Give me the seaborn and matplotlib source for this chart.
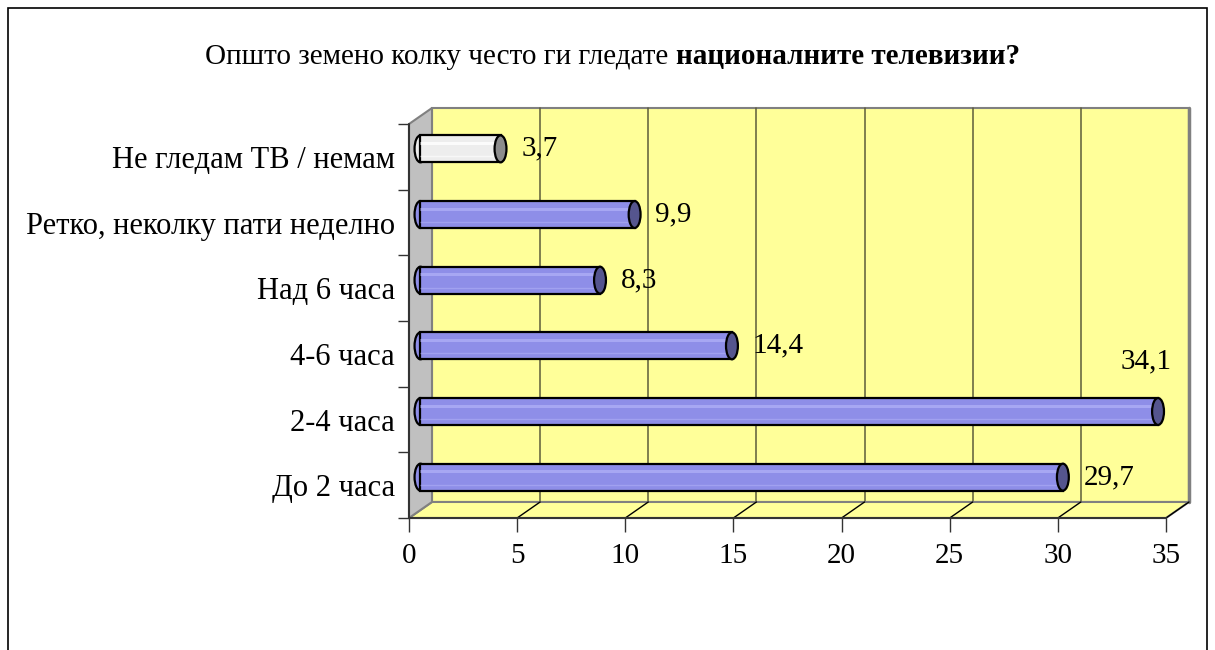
import matplotlib
matplotlib.use("Agg")
import numpy as np
import pandas as pd
import matplotlib.pyplot as plt
import matplotlib.transforms as mtransforms
from matplotlib.patches import Polygon, Rectangle, Ellipse
import seaborn as sns

# --- data ---
categories = ["Не гледам ТВ / немам", "Ретко, неколку пати неделно", "Над 6 часа",
              "4-6 часа", "2-4 часа", "До 2 часа"]
values = [3.7, 9.9, 8.3, 14.4, 34.1, 29.7]
value_labels = ["3,7", "9,9", "8,3", "14,4", "34,1", "29,7"]
x_ticks = [0, 5, 10, 15, 20, 25, 30, 35]
title_normal = "Општо земено колку често ги гледате "
title_bold = "националните телевизии?"

# bar styles (first bar is grey/white in the original)
body_colors = ["#EDEDED", "#8E8EE8", "#8E8EE8", "#8E8EE8", "#8E8EE8", "#8E8EE8"]
cap_colors = ["#8C8C8C", "#55558E", "#55558E", "#55558E", "#55558E", "#55558E"]
shine_colors = ["#FFFFFF", "#AEAEF6", "#AEAEF6", "#AEAEF6", "#AEAEF6", "#AEAEF6"]

sns.set_style("white")
plt.rcParams["font.family"] = ["Liberation Serif", "DejaVu Serif"]
plt.rcParams["text.color"] = "black"
plt.rcParams["xtick.color"] = "black"
plt.rcParams["ytick.color"] = "black"
plt.rcParams["xtick.labelcolor"] = "black"
plt.rcParams["ytick.labelcolor"] = "black"

FS_CAT = 22
FS_NUM = 21
FS_TITLE = 21
XMAX = 35
DX = 1.063   # depth offset in x data units
DY = 0.244   # depth offset in y data units
BAR_H = 0.41

fig = plt.figure(figsize=(12.15, 6.5), dpi=100)
ax = fig.add_axes([409 / 1215, 1 - 518 / 650, 780 / 1215, 410 / 650])

df = pd.DataFrame({"category": categories, "value": values})
sns.barplot(data=df, x="value", y="category", orient="h", width=BAR_H, ax=ax,
            color=body_colors[1], edgecolor="black", linewidth=1.6, zorder=6)

ax.set_xlim(0, XMAX + DX)
ax.set_ylim(len(categories) - 0.5, -0.5 - DY)
ax.set_facecolor("none")
for s in ax.spines.values():
    s.set_visible(False)

top = -0.5
bot = len(categories) - 0.5

# back wall
ax.add_patch(Rectangle((DX, top - DY), XMAX, bot - top, facecolor="#FFFF99",
                       edgecolor="#808080", linewidth=1.5, zorder=0, clip_on=False))
for xt in x_ticks[1:-1]:
    ax.plot([xt + DX, xt + DX], [top - DY, bot - DY], color="#5C5C3A", lw=1.1, zorder=1, clip_on=False)
ax.plot([XMAX + DX, XMAX + DX], [top - DY, bot - DY], color="#808080", lw=2.5, zorder=2, clip_on=False)

# floor
ax.add_patch(Polygon([(0, bot), (XMAX, bot), (XMAX + DX, bot - DY), (DX, bot - DY)],
                     closed=True, facecolor="#FFFF99", edgecolor="#808080", linewidth=1.5,
                     zorder=1, clip_on=False))
for xt in x_ticks[1:]:
    ax.plot([xt, xt + DX], [bot, bot - DY], color="black", lw=1, zorder=2, clip_on=False)

# side wall
ax.add_patch(Polygon([(0, top), (DX, top - DY), (DX, bot - DY), (0, bot)],
                     closed=True, facecolor="#C0C0C0", edgecolor="#808080", linewidth=1.5,
                     zorder=2, clip_on=False))

# front axis lines
ax.plot([0, 0], [top, bot], color="#333333", lw=1.5, zorder=3, clip_on=False)
ax.plot([0, XMAX], [bot, bot], color="#333333", lw=1.5, zorder=3, clip_on=False)

# shift the bars to the middle of the depth and style them as cylinders
shift = mtransforms.Affine2D().translate(DX / 2, -DY / 2) + ax.transData
bars = [p for p in ax.patches if isinstance(p, Rectangle) and p.get_zorder() == 6]
for i, patch in enumerate(bars):
    v = values[i]
    yc = i - DY / 2
    patch.set_transform(shift)
    patch.set_facecolor(body_colors[i])
    # left rounded end
    ax.add_patch(Ellipse((DX / 2, yc), 0.55, BAR_H, facecolor=body_colors[i],
                         edgecolor="black", linewidth=1.6, zorder=5))
    # shine stripes
    ax.plot([DX / 2, v + DX / 2], [yc - BAR_H * 0.22, yc - BAR_H * 0.22],
            color=shine_colors[i], lw=2.2, alpha=0.8, zorder=7, solid_capstyle="butt")
    ax.plot([DX / 2, v + DX / 2], [yc + BAR_H * 0.28, yc + BAR_H * 0.28],
            color=shine_colors[i], lw=1.0, alpha=0.6, zorder=7, solid_capstyle="butt")
    # right cap
    ax.add_patch(Ellipse((v + DX / 2, yc), 0.55, BAR_H, facecolor=cap_colors[i],
                         edgecolor="black", linewidth=1.6, zorder=8))
    # value label
    if v + DX / 2 + 3.6 > XMAX:
        ax.text(v, yc - 0.76, value_labels[i], ha="center", va="center", fontsize=FS_NUM, zorder=9)
    else:
        ax.text(v + DX / 2 + 0.95, yc, value_labels[i], ha="left", va="center", fontsize=FS_NUM, zorder=9)

# ticks
ax.set_xticks(x_ticks)
ax.set_xticklabels([str(t) for t in x_ticks])
ax.tick_params(axis="x", length=10, width=1, color="#333333", pad=8, labelsize=FS_NUM, bottom=True)
ax.set_yticks(range(len(categories)))
ax.set_yticklabels(categories)
ax.set_yticks(np.arange(top, bot + 0.01, 1.0), minor=True)
ax.tick_params(axis="y", which="major", length=0, pad=10, labelsize=FS_CAT)
ax.tick_params(axis="y", which="minor", length=8, width=1, color="#333333", left=True)
ax.set_xlabel("")
ax.set_ylabel("")

# title: normal part followed by bold part
t1 = fig.text(205 / 1215, 1 - 70 / 650, title_normal, fontsize=FS_TITLE, va="bottom", ha="left")
ax.annotate(title_bold, xy=(1, 0), xycoords=t1, va="bottom", ha="left",
            fontsize=FS_TITLE, fontweight="bold", annotation_clip=False)

# outer frame
fig.add_artist(Rectangle((8 / 1215, -0.1), (1207 - 8) / 1215, 1 - 8 / 650 + 0.1,
                         transform=fig.transFigure, fill=False, edgecolor="black", linewidth=1.2))

fig.savefig("out.png", dpi=100, facecolor="white")
